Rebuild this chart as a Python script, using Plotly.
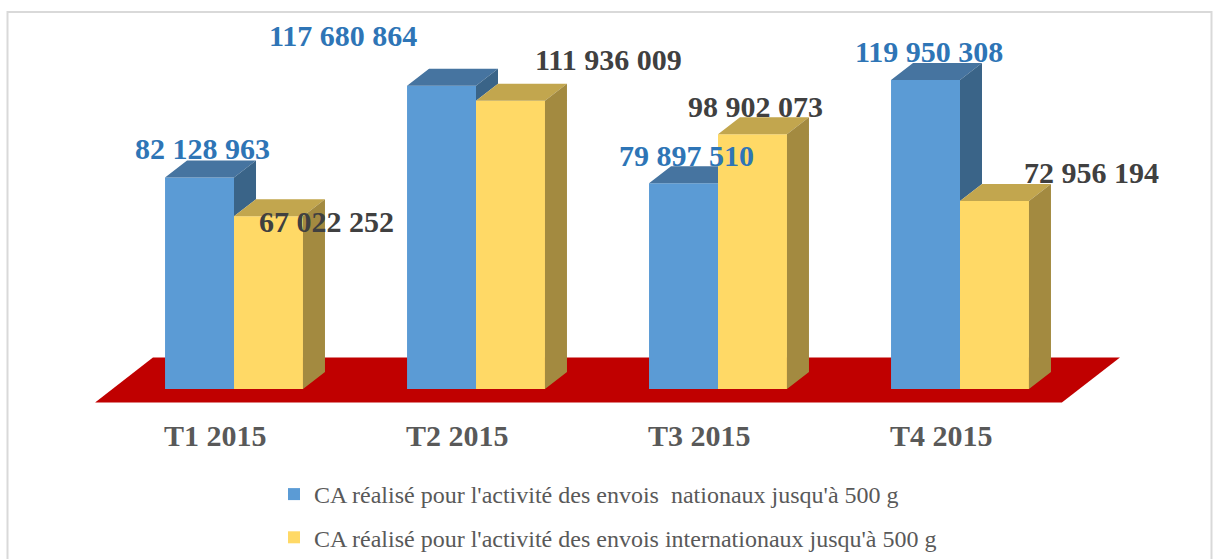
import plotly.graph_objects as go

# ---- data ----
categories = ["T1 2015", "T2 2015", "T3 2015", "T4 2015"]
series_names = [
    "CA réalisé pour l'activité des envois  nationaux jusqu'à 500 g",
    "CA réalisé pour l'activité des envois internationaux jusqu'à 500 g",
]
nationaux = [82128963, 117680864, 79897510, 119950308]
internationaux = [67022252, 111936009, 98902073, 72956194]

# ---- style ----
FIG_W, FIG_H = 1214, 559
W = 0.285            # bar width (category units)
DX = 0.0909          # 3D depth offset along x (category units)
DY = 6.6e6           # 3D depth offset along y (value units)
X_RANGE = [-0.967, 4.0496]
Y_RANGE = [-66.0e6, 151.0e6]

BLUE_FRONT, BLUE_TOP, BLUE_SIDE = "#5B9BD5", "#4674A0", "#3A6488"
YEL_FRONT, YEL_TOP, YEL_SIDE = "#FFD966", "#C2A64E", "#A38A40"
FLOOR = "#C00000"
BLUE_LABEL, DARK_LABEL, AXIS_TXT = "#2E75B6", "#404040", "#595959"
SERIF = "Liberation Serif, Times New Roman, serif"

# label offsets (px) relative to each bar's front-top centre
blue_off = [(3, 29), (-98.5, 50), (3, 28), (3, 28)]
yel_off = [(57.5, -5.5), (98.5, 41), (3, 27.5), (97.5, 29)]

# floor parallelogram (data coords)
floor_pts = [(-0.335, 12.2e6), (3.661, 12.2e6), (3.421, -5.2e6), (-0.574, -5.2e6)]


def fmt(v):
    return f"{v:,}".replace(",", " ")


xs = list(range(len(categories)))
fig = go.Figure()

# front faces (bars)
fig.add_trace(go.Bar(
    x=[i - W / 2 for i in xs], y=nationaux, width=W, name=series_names[0],
    marker=dict(color=BLUE_FRONT, line=dict(width=0)), legendgroup="a",
    hoverinfo="skip"))
fig.add_trace(go.Bar(
    x=[i + W / 2 for i in xs], y=internationaux, width=W, name=series_names[1],
    marker=dict(color=YEL_FRONT, line=dict(width=0)), legendgroup="b",
    hoverinfo="skip"))


def poly_trace(polys, color):
    px, py = [], []
    for p in polys:
        for (a, b) in p + [p[0]]:
            px.append(a)
            py.append(b)
        px.append(None)
        py.append(None)
    return go.Scatter(x=px, y=py, mode="lines", fill="toself", fillcolor=color,
                      line=dict(width=0, color=color), showlegend=False,
                      hoverinfo="skip")


blue_top, blue_side, yel_top, yel_side = [], [], [], []
for i, vb, vy in zip(xs, nationaux, internationaux):
    if vb > vy:
        blue_top.append([(i - W, vb), (i - W + DX, vb + DY), (i + DX, vb + DY), (i, vb)])
        blue_side.append([(i, vy), (i + DX, vy + DY), (i + DX, vb + DY), (i, vb)])
    else:
        blue_top.append([(i - W, vb), (i - W + DX, vb + DY), (i, vb + DY), (i, vb)])
    yel_top.append([(i, vy), (i + DX, vy + DY), (i + W + DX, vy + DY), (i + W, vy)])
    yel_side.append([(i + W, 0), (i + W + DX, DY), (i + W + DX, vy + DY), (i + W, vy)])

fig.add_trace(poly_trace(blue_top, BLUE_TOP))
fig.add_trace(poly_trace(blue_side, BLUE_SIDE))
fig.add_trace(poly_trace(yel_top, YEL_TOP))
fig.add_trace(poly_trace(yel_side, YEL_SIDE))

annotations = []
for i, vb, vy, ob, oy in zip(xs, nationaux, internationaux, blue_off, yel_off):
    annotations.append(dict(x=i - W / 2, y=vb, xref="x", yref="y", text=fmt(vb),
                            showarrow=False, xshift=ob[0], yshift=ob[1],
                            xanchor="center", yanchor="middle",
                            font=dict(family=SERIF, size=30, color=BLUE_LABEL, weight="bold")))
    annotations.append(dict(x=i + W / 2, y=vy, xref="x", yref="y", text=fmt(vy),
                            showarrow=False, xshift=oy[0], yshift=oy[1],
                            xanchor="center", yanchor="middle",
                            font=dict(family=SERIF, size=30, color=DARK_LABEL, weight="bold")))
for i, c in zip(xs, categories):
    annotations.append(dict(x=i, y=0, xref="x", yref="y", text=c, showarrow=False,
                            xshift=-18.5, yshift=-47, xanchor="center", yanchor="middle",
                            font=dict(family=SERIF, size=30, color=AXIS_TXT, weight="bold")))

fx = [p[0] for p in floor_pts]
fy = [p[1] for p in floor_pts]
floor_path = "M{},{} L{},{} L{},{} L{},{} Z".format(fx[0], fy[0], fx[1], fy[1], fx[2], fy[2], fx[3], fy[3])

fig.update_layout(
    width=FIG_W, height=FIG_H,
    margin=dict(l=0, r=0, t=0, b=0, autoexpand=False),
    paper_bgcolor="white", plot_bgcolor="rgba(0,0,0,0)",
    barmode="overlay",
    xaxis=dict(range=X_RANGE, visible=False, fixedrange=True),
    yaxis=dict(range=Y_RANGE, visible=False, fixedrange=True),
    shapes=[
        dict(type="path", path=floor_path, xref="x", yref="y",
             fillcolor=FLOOR, line=dict(width=0), layer="below"),
        dict(type="rect", xref="paper", yref="paper", x0=7.5 / FIG_W, x1=1211.5 / FIG_W,
             y0=-0.1, y1=1 - 12 / FIG_H, line=dict(color="#D9D9D9", width=2),
             fillcolor="rgba(0,0,0,0)", layer="below"),
    ],
    annotations=annotations,
    showlegend=True,
    legend=dict(x=274 / FIG_W, y=1 - 472 / FIG_H, xanchor="left", yanchor="top",
                orientation="v", traceorder="grouped", tracegroupgap=9,
                font=dict(family=SERIF, size=24, color=AXIS_TXT),
                bgcolor="rgba(0,0,0,0)"),
)

fig.write_html("out.html", config={"displayModeBar": False},
               post_script="document.body.style.margin='0';document.body.style.overflow='hidden';")
